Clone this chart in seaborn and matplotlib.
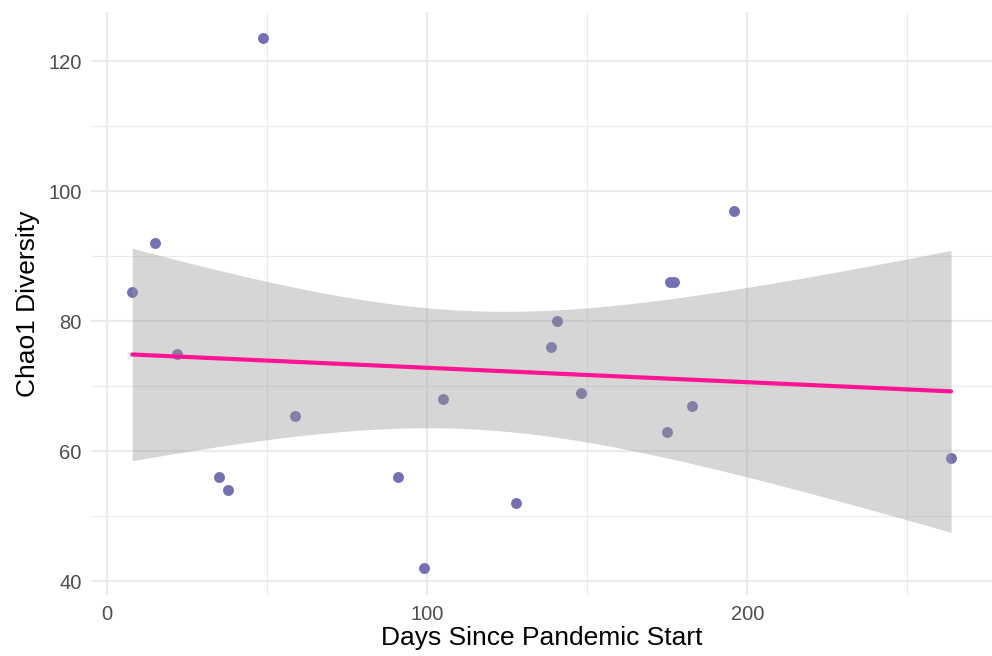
import numpy as np
import pandas as pd
import matplotlib
matplotlib.use("Agg")
import matplotlib.pyplot as plt
from matplotlib.ticker import MultipleLocator
import seaborn as sns

# values
days = [7.8, 15, 21.8, 35, 37.8, 48.7, 58.7, 90.8, 98.9, 104.8,
        127.6, 138.8, 140.7, 147.9, 175, 176, 177.2, 182.8, 196, 263.7]
chao1 = [84.5, 92, 75, 56, 54, 123.5, 65.5, 56, 42, 68,
         52, 76, 80, 69, 63, 86, 86, 67, 97, 59]

df = pd.DataFrame({"days": days, "chao1": chao1})

sns.set_style("whitegrid")
plt.rcParams["font.family"] = ["Liberation Sans", "DejaVu Sans"]

fig = plt.figure(figsize=(9.92, 6.56), dpi=100)
ax = fig.add_axes([0.092, 0.093, 0.908, 0.889])

sns.regplot(data=df, x="days", y="chao1", ax=ax, ci=None,
            scatter_kws=dict(color="#7570B3", s=62, alpha=1, linewidths=0, zorder=2),
            line_kws=dict(color="#FF1493", lw=3, zorder=4))

# analytic 95% confidence band like geom_smooth(method = "lm")
x = np.array(days)
y = np.array(chao1)
n = len(x)
b1, b0 = np.polyfit(x, y, 1)
xs = np.linspace(x.min(), x.max(), 200)
resid = y - (b0 + b1 * x)
s = np.sqrt(np.sum(resid ** 2) / (n - 2))
se = s * np.sqrt(1 / n + (xs - x.mean()) ** 2 / np.sum((x - x.mean()) ** 2))
t = 2.100922  # t(0.975, 18)
fit = b0 + b1 * xs
ax.fill_between(xs, fit - t * se, fit + t * se, color="#999999", alpha=0.4,
                linewidth=0, zorder=3)

ax.set_xlim(-5, 276.5)
ax.set_ylim(37.9, 127.6)
ax.xaxis.set_major_locator(MultipleLocator(100))
ax.xaxis.set_minor_locator(MultipleLocator(50))
ax.yaxis.set_major_locator(MultipleLocator(20))
ax.yaxis.set_minor_locator(MultipleLocator(10))
ax.grid(which="major", color="#EBEBEB", lw=1.6)
ax.grid(which="minor", color="#EBEBEB", lw=0.8)
for sp in ax.spines.values():
    sp.set_visible(False)
ax.tick_params(which="both", length=0, labelsize=14.5, labelcolor="#4D4D4D", pad=7)

ax.set_xlabel("Days Since Pandemic Start", fontsize=19, color="black", labelpad=2)
ax.set_ylabel("Chao1 Diversity", fontsize=19, color="black", labelpad=6)

fig.savefig("out.png", dpi=100)
